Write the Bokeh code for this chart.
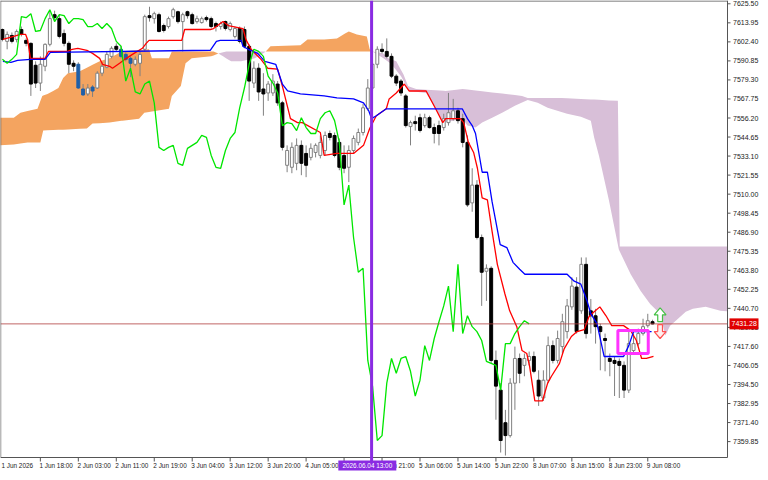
import numpy as np
from bokeh.plotting import figure
from bokeh.models import ColumnDataSource, Range1d
from bokeh.core.properties import value
from bokeh.embed import file_html
from bokeh.resources import INLINE

# ---------------- data (H1 candles) ----------------
opens = [7609.9, 7602.7, 7606.3, 7603.9, 7609.9, 7603.3, 7601.5, 7588.2, 7577.4, 7587.6,
         7600.9, 7618.9, 7616.5, 7607.5, 7601.5, 7589.4, 7588.8, 7573.8, 7570.8, 7575.0,
         7574.4, 7583.4, 7587.0, 7593.6, 7599.7, 7597.9, 7594.8, 7592.4, 7588.8, 7589.4,
         7597.9, 7618.3, 7616.5, 7618.9, 7612.3, 7611.7, 7617.7, 7620.7, 7614.7, 7620.7,
         7618.9, 7614.7, 7614.1, 7617.1, 7616.5, 7613.5, 7611.7, 7614.7, 7609.9, 7605.7,
         7610.5, 7609.9, 7599.7, 7577.4, 7586.4, 7573.8, 7571.4, 7571.4, 7576.8, 7565.4,
         7527.5, 7526.3, 7528.7, 7539.6, 7534.7, 7532.3, 7535.3, 7533.5, 7536.5, 7546.8,
         7545.6, 7541.4, 7533.5, 7526.3, 7536.5, 7541.4, 7547.4, 7561.8, 7574.4, 7588.8,
         7597.9, 7596.6, 7593.6, 7581.6, 7578.6, 7569.6, 7551.0, 7554.0, 7556.4, 7551.6,
         7556.4, 7550.4, 7551.6, 7550.4, 7553.4, 7555.8, 7560.6, 7555.8, 7541.4, 7504.7,
         7515.5, 7483.7, 7463.2, 7465.0, 7409.1, 7391.1, 7371.3, 7363.5, 7395.3, 7410.3,
         7406.1, 7409.1, 7411.5, 7397.1, 7386.3, 7397.1, 7418.1, 7409.1, 7417.5, 7426.6,
         7441.6, 7453.6, 7439.2, 7467.4, 7439.2, 7436.2, 7429.6, 7422.4, 7410.3, 7409.1,
         7408.5, 7406.1, 7391.1, 7415.1, 7419.3, 7425.4, 7430.2, 7432.6]
highs = [7610.5, 7608.7, 7608.1, 7609.9, 7611.7, 7604.5, 7602.1, 7590.6, 7593.6, 7601.5,
         7620.7, 7621.3, 7618.9, 7609.9, 7602.7, 7591.2, 7590.0, 7576.8, 7576.8, 7576.2,
         7584.6, 7590.0, 7596.6, 7599.7, 7601.5, 7599.7, 7596.0, 7593.6, 7593.6, 7596.6,
         7618.9, 7623.7, 7620.7, 7620.1, 7613.5, 7617.7, 7623.1, 7621.3, 7620.1, 7621.3,
         7620.1, 7618.3, 7617.7, 7618.3, 7617.7, 7614.7, 7614.7, 7615.3, 7614.7, 7611.7,
         7611.7, 7611.7, 7600.9, 7590.6, 7589.4, 7583.4, 7578.6, 7582.8, 7578.6, 7566.6,
         7539.6, 7541.4, 7543.8, 7542.6, 7539.6, 7540.8, 7540.8, 7545.6, 7548.0, 7548.6,
         7547.4, 7543.8, 7539.6, 7539.6, 7545.6, 7549.8, 7564.8, 7579.8, 7590.0, 7599.7,
         7601.5, 7604.5, 7595.4, 7582.8, 7579.8, 7570.8, 7554.6, 7557.6, 7558.8, 7558.8,
         7557.6, 7552.8, 7554.6, 7558.8, 7571.4, 7567.8, 7562.4, 7558.8, 7545.6, 7525.7,
         7518.5, 7485.5, 7467.4, 7466.2, 7415.1, 7395.3, 7379.1, 7398.3, 7417.5, 7413.3,
         7413.3, 7414.5, 7414.5, 7403.1, 7403.1, 7423.6, 7421.2, 7427.2, 7437.4, 7446.4,
         7459.6, 7459.6, 7471.6, 7471.6, 7446.4, 7440.4, 7431.4, 7425.4, 7413.3, 7411.5,
         7410.3, 7408.5, 7427.2, 7425.4, 7428.4, 7434.4, 7437.4, 7433.8]
lows = [7602.7, 7597.9, 7601.5, 7602.1, 7605.7, 7599.7, 7569.6, 7574.4, 7572.6, 7584.6,
        7599.7, 7614.7, 7604.5, 7599.7, 7583.4, 7584.6, 7573.8, 7569.6, 7569.6, 7569.0,
        7573.8, 7581.6, 7586.4, 7592.4, 7596.6, 7592.4, 7590.6, 7581.0, 7587.6, 7581.6,
        7596.6, 7614.7, 7613.5, 7608.1, 7608.1, 7610.5, 7616.5, 7613.5, 7596.6, 7616.5,
        7612.9, 7613.5, 7613.5, 7614.7, 7610.5, 7608.7, 7609.9, 7609.3, 7608.7, 7604.5,
        7601.5, 7598.5, 7566.6, 7574.4, 7566.6, 7557.6, 7566.6, 7569.6, 7563.6, 7536.5,
        7523.3, 7522.7, 7524.5, 7521.5, 7520.3, 7530.5, 7532.3, 7531.7, 7533.5, 7542.6,
        7532.3, 7524.5, 7522.7, 7517.3, 7534.7, 7539.6, 7545.6, 7560.6, 7572.6, 7586.4,
        7595.4, 7592.4, 7580.4, 7575.6, 7569.6, 7550.4, 7539.6, 7548.6, 7547.4, 7550.4,
        7549.8, 7540.8, 7539.6, 7548.6, 7551.6, 7554.6, 7552.8, 7538.4, 7502.3, 7499.3,
        7482.5, 7442.2, 7445.2, 7407.3, 7373.1, 7353.2, 7351.4, 7362.3, 7379.1, 7395.3,
        7399.5, 7406.1, 7401.3, 7381.5, 7384.5, 7395.3, 7407.3, 7407.3, 7413.3, 7422.4,
        7439.8, 7425.4, 7437.4, 7422.4, 7425.4, 7419.3, 7403.1, 7402.5, 7399.5, 7387.5,
        7386.3, 7386.3, 7389.3, 7413.3, 7418.1, 7424.2, 7429.0, 7431.0]
closes = [7603.9, 7606.9, 7602.7, 7608.7, 7606.9, 7601.5, 7576.8, 7577.4, 7588.8, 7600.9,
          7616.5, 7617.1, 7605.7, 7601.5, 7588.8, 7587.6, 7574.4, 7570.2, 7574.4, 7572.6,
          7583.4, 7587.6, 7594.8, 7598.5, 7597.9, 7593.6, 7591.8, 7589.4, 7591.8, 7594.8,
          7617.7, 7617.1, 7619.5, 7608.7, 7609.3, 7616.5, 7621.9, 7614.7, 7618.9, 7618.3,
          7613.5, 7616.5, 7616.5, 7615.9, 7611.7, 7611.7, 7613.5, 7610.5, 7613.5, 7610.5,
          7602.7, 7599.7, 7578.6, 7586.4, 7572.0, 7570.8, 7576.8, 7578.6, 7565.4, 7538.4,
          7536.5, 7538.4, 7539.6, 7528.7, 7527.5, 7537.8, 7539.6, 7541.4, 7545.6, 7544.4,
          7533.5, 7526.3, 7525.7, 7536.5, 7543.8, 7547.4, 7562.4, 7574.4, 7588.8, 7597.9,
          7596.6, 7593.6, 7581.6, 7577.4, 7571.4, 7551.6, 7553.4, 7552.8, 7548.6, 7556.4,
          7550.4, 7546.8, 7546.8, 7555.8, 7559.4, 7560.6, 7554.6, 7541.4, 7503.5, 7515.5,
          7483.7, 7462.6, 7465.0, 7409.1, 7393.5, 7360.5, 7363.5, 7395.3, 7410.3, 7401.3,
          7410.3, 7411.5, 7402.5, 7387.5, 7397.1, 7418.1, 7409.1, 7422.4, 7432.6, 7442.2,
          7454.2, 7426.6, 7467.4, 7425.4, 7436.2, 7429.6, 7426.6, 7421.2, 7408.5, 7407.3,
          7406.1, 7391.1, 7419.3, 7419.3, 7425.4, 7429.6, 7433.2, 7431.28]

# Tenkan-sen (red), Kijun-sen (blue): vertices (bar index, price)
tenkan_bar = [0.1, 2.4, 3.8, 4.9, 5.3, 5.9, 9.0, 9.7, 13.8, 14.7, 15.9, 17.8, 19.0, 20.5, 21.1,
              22.6, 23.2, 24.7, 26.1, 27.4, 29.5, 30.3, 30.9, 37.8, 38.4, 43.8, 44.5, 46.5, 47.6,
              50.7, 51.3, 52.4, 54.5, 55.9, 58.0, 59.0, 60.7, 62.2, 63.2, 67.0, 67.8, 70.5, 74.0,
              76.1, 77.4, 78.8, 80.9, 81.5, 83.0, 84.7, 85.7, 89.3, 91.3, 92.8, 93.4, 96.5, 97.2,
              98.2, 99.3, 100.1, 101.1, 102.2, 103.2, 104.3, 105.9, 106.9, 108.4, 109.5, 110.5,
              111.1, 112.2, 113.8, 114.9, 115.7, 117.4, 118.4, 119.9, 121.1, 122.6, 123.6, 124.7,
              125.9, 127.2, 128.4, 130.9, 132.4, 133.6, 134.7, 135.7, 137.2]
tenkan = [7603.9, 7605.7, 7606.9, 7606.9, 7603.9, 7592.4, 7592.4, 7596.6, 7596.6, 7597.9,
          7598.5, 7597.3, 7595.4, 7592.4, 7588.8, 7587.6, 7586.4, 7589.4, 7592.4, 7594.8,
          7598.5, 7601.5, 7603.3, 7603.3, 7609.9, 7609.9, 7610.5, 7614.7, 7612.3, 7610.5,
          7603.9, 7597.9, 7591.8, 7586.4, 7585.8, 7575.6, 7555.8, 7553.4, 7553.4, 7547.4,
          7533.5, 7534.7, 7534.7, 7539.6, 7549.8, 7557.6, 7561.8, 7567.8, 7571.4, 7576.8,
          7572.6, 7572.6, 7561.8, 7553.4, 7555.8, 7555.8, 7553.4, 7541.4, 7535.3, 7525.7,
          7507.7, 7506.5, 7487.3, 7467.4, 7449.4, 7439.2, 7429.6, 7415.1, 7413.3, 7405.5,
          7384.5, 7384.5, 7395.3, 7399.5, 7407.3, 7416.3, 7423.6, 7426.6, 7427.8, 7435.6,
          7438.6, 7441.6, 7436.2, 7430.2, 7430.2, 7427.2, 7421.2, 7410.3, 7410.3, 7411.5]
kijun_bar = [0.1, 1.8, 3.2, 5.9, 9.0, 10.1, 43.8, 45.1, 45.9, 50.3, 50.7, 51.8, 53.8, 55.3, 57.6,
             59.0, 60.1, 62.8, 67.8, 70.5, 74.0, 76.1, 77.2, 77.8, 78.8, 80.9, 96.9, 98.0, 99.0,
             99.7, 101.1, 102.2, 103.2, 104.9, 106.3, 107.6, 109.0, 110.1, 119.0, 120.5, 121.9,
             123.2, 124.0, 125.3, 126.8, 130.9, 132.0, 133.0, 136.8]
kijun = [7590.6, 7590.0, 7591.2, 7591.8, 7591.8, 7596.0, 7597.3, 7602.7, 7603.3, 7603.3,
         7599.7, 7597.9, 7595.4, 7590.6, 7588.8, 7576.8, 7572.6, 7570.8, 7569.6, 7568.4,
         7567.8, 7565.4, 7560.6, 7555.8, 7557.6, 7561.8, 7561.8, 7555.8, 7551.6, 7546.8,
         7523.3, 7523.3, 7505.3, 7479.4, 7477.6, 7468.6, 7464.4, 7461.4, 7461.4, 7457.2,
         7455.4, 7445.2, 7437.4, 7431.4, 7411.5, 7411.5, 7418.1, 7426.6, 7426.6]

# Senkou span A / B (cloud edges)
span_a_bar = [-1, 2.4, 3.8, 7.4, 8.4, 9.5, 10.7, 11.8, 12.8, 13.8, 16.3, 18.4, 20.5, 22.6, 24.0,
              25.1, 30.9, 31.5, 35.1, 35.7, 44.5, 45.5, 46.5, 48.2, 50.3, 53.2, 54.9, 55.5, 56.5,
              62.8, 64.3, 67.8, 70.5, 72.2, 73.0, 74.7, 76.8, 77.4, 78.0, 80.3, 82.0, 84.0, 85.7,
              89.3, 91.3, 93.0, 97.0, 98.0, 99.7, 101.1, 103.2, 105.3, 108.0, 110.7, 112.8, 114.9,
              119.0, 121.9, 124.0, 124.7, 125.7, 127.8, 129.9, 132.4, 134.5, 136.5, 138.6, 139.7,
              140.7, 141.9, 144.0, 145.5, 148.2, 151.3, 154.0]
span_a = [7556.4, 7556.4, 7559.4, 7561.8, 7569.6, 7570.8, 7572.6, 7574.4, 7580.4, 7583.4,
          7584.6, 7587.6, 7590.6, 7592.4, 7594.8, 7596.6, 7597.9, 7592.4, 7592.4, 7596.6,
          7596.6, 7595.4, 7593.6, 7590.6, 7590.6, 7592.4, 7595.4, 7596.6, 7599.7, 7600.3,
          7603.9, 7603.9, 7604.5, 7607.5, 7608.7, 7606.9, 7605.7, 7597.9, 7596.6, 7592.4,
          7588.8, 7581.6, 7572.6, 7571.4, 7561.8, 7553.4, 7555.8, 7551.6, 7550.4, 7553.4,
          7556.4, 7559.4, 7563.6, 7567.2, 7565.4, 7562.4, 7558.8, 7557.0, 7554.6, 7544.4,
          7533.5, 7506.5, 7476.4, 7461.4, 7451.2, 7443.4, 7437.4, 7424.2, 7430.2, 7433.2,
          7438.6, 7440.4, 7441.6, 7439.2, 7438.6]
span_b_bar = [-1, 2.4, 5.3, 8.0, 8.6, 17.8, 19.0, 22.6, 25.3, 28.8, 29.9, 35.1, 35.7, 37.6, 38.6,
              39.9, 44.0, 45.5, 47.2, 55.5, 78.0, 80.3, 81.3, 83.0, 84.5, 85.5, 87.2, 93.4, 97.0,
              109.5, 110.7, 117.8, 121.9, 129.7, 130.1, 154.0]
span_b = [7539.6, 7540.1, 7541.4, 7541.4, 7548.6, 7549.8, 7552.8, 7553.4, 7554.6, 7555.8,
          7559.4, 7561.8, 7569.6, 7575.6, 7589.4, 7592.4, 7593.6, 7595.4, 7596.6, 7596.6,
          7596.6, 7595.4, 7592.4, 7590.6, 7582.8, 7575.6, 7573.8, 7572.6, 7573.8, 7569.6,
          7568.4, 7568.4, 7567.8, 7566.6, 7478.2, 7478.2]
chikou_shift = 26

time_tick_bars = [0, 8, 16, 24, 32, 40, 48, 56, 64, 72, 80, 88, 96, 104, 112, 120, 128, 136]
time_tick_labels = ["1 Jun 2026", "1 Jun 18:00", "2 Jun 03:00", "2 Jun 11:00", "2 Jun 19:00",
                    "3 Jun 04:00", "3 Jun 12:00", "3 Jun 20:00", "4 Jun 05:00", "4 Jun 13:00",
                    "4 Jun 21:00", "5 Jun 06:00", "5 Jun 14:00", "5 Jun 22:00", "8 Jun 07:00",
                    "8 Jun 15:00", "8 Jun 23:00", "9 Jun 08:00"]
price_ticks = [7625.50, 7613.95, 7602.40, 7590.85, 7579.30, 7567.75, 7556.20, 7544.65, 7533.10,
               7521.55, 7510.00, 7498.45, 7486.90, 7475.35, 7463.80, 7452.25, 7440.70, 7429.15,
               7417.60, 7406.05, 7394.50, 7382.95, 7371.40, 7359.85]
last_price = 7431.28
marker_bar = 77.8
marker_text = "2026.06.04 13:00"
box_left_bar, box_right_bar, box_top, box_bottom = 129.7, 136.1, 7427.2, 7413.3
arrow_bar = 138.6
up_arrow_tip = 7441.0
down_arrow_tip = 7422.4

# ---------------- geometry of the chart window ----------------
X0, X1 = -0.4, 152.8          # bar range of the price panel
Y0, Y1 = 7350.2, 7627.5       # price range of the price panel
W, H = 760, 472
FRAME_W, FRAME_H = 727, 457   # price panel in pixels; the rest is the axis strips
px_x = (X1 - X0) / FRAME_W    # bars per pixel
px_y = (Y1 - Y0) / FRAME_H    # price per pixel
XR = (X0, X0 + W * px_x)
YR = (Y1 - H * px_y, Y1)

FONT = "Liberation Sans"
FS = value("7px")
FS_T = value("6.4px")

p = figure(width=W, height=H, x_range=Range1d(*XR), y_range=Range1d(*YR),
           output_backend="svg", toolbar_location=None,
           x_axis_location=None, y_axis_location=None, min_border=0)
p.grid.visible = False
p.outline_line_color = None
p.background_fill_color = "white"
p.border_fill_color = "white"

# cloud
grid = np.unique(np.concatenate([span_a_bar, span_b_bar]))
ag = np.interp(grid, span_a_bar, span_a)
bg = np.interp(grid, span_b_bar, span_b)
top = np.maximum(ag, bg)
p.varea(x=grid, y1=bg, y2=top, fill_color="#f4a460")
p.varea(x=grid, y1=ag, y2=top, fill_color="#d8bfd8")

# candles
o = np.array(opens); h = np.array(highs); l = np.array(lows); c = np.array(closes)
bars = np.arange(len(c))
bull = c >= o
a_at = np.interp(bars, span_a_bar, span_a)
b_at = np.interp(bars, span_b_bar, span_b)
mid = (o + c) / 2
in_orange = (a_at > b_at) & (mid < a_at) & (mid > b_at)
fill = np.where(bull, "white", np.where(in_orange, "#1f5fa8", "black"))
edge = np.where(bull, "#808080", np.where(in_orange, "#1f5fa8", "black"))
src = ColumnDataSource(dict(x=bars, h=h, l=l, top=np.maximum(o, c), bottom=np.minimum(o, c),
                            fill=fill, edge=edge))
p.segment(x0="x", y0="l", x1="x", y1="h", source=src, line_color="#808080", line_width=1)
p.vbar(x="x", width=0.62, top="top", bottom="bottom", fill_color="fill", line_color="edge",
       line_width=1, source=src)

# ichimoku lines
p.line(tenkan_bar, tenkan, line_color="#ff0000", line_width=1.3)
p.line(kijun_bar, kijun, line_color="#0000ff", line_width=1.3)
p.line(bars[:-chikou_shift], c[chikou_shift:], line_color="#00e600", line_width=1.3)

# last price line
p.segment(x0=[X0], y0=[last_price], x1=[X1], y1=[last_price], line_color="#b04040",
          line_alpha=0.8, line_width=1)

# highlight box
p.quad(left=[box_left_bar], right=[box_right_bar], top=[box_top], bottom=[box_bottom],
       fill_alpha=0, line_color="#ff33ff", line_width=3)

# signal arrows
hw, sw, hl, sl = 1.25, 0.5, 4.2, 4.2
ux = [arrow_bar, arrow_bar + hw, arrow_bar + sw, arrow_bar + sw, arrow_bar - sw, arrow_bar - sw, arrow_bar - hw]
uy = [up_arrow_tip, up_arrow_tip - hl, up_arrow_tip - hl, up_arrow_tip - hl - sl,
      up_arrow_tip - hl - sl, up_arrow_tip - hl, up_arrow_tip - hl]
dy = [down_arrow_tip, down_arrow_tip + hl, down_arrow_tip + hl, down_arrow_tip + hl + sl,
      down_arrow_tip + hl + sl, down_arrow_tip + hl, down_arrow_tip + hl]
p.patch(ux, uy, fill_color="white", line_color="#44c044", line_width=1.2)
p.patch(ux, dy, fill_color="#fff0f0", line_color="#ff5050", line_width=1.2)

# axis strips (mask everything outside the price panel)
p.quad(left=[X1], right=[XR[1] + 1], bottom=[YR[0] - 1], top=[YR[1] + 1],
       fill_color="white", line_color=None)
p.quad(left=[XR[0] - 1], right=[XR[1] + 1], bottom=[YR[0] - 1], top=[Y0],
       fill_color="white", line_color=None)

# panel border and axis lines
p.segment(x0=[X0, X0 + 0.2 * px_x, X1, X0], y0=[Y1 - 0.5 * px_y, Y0, Y0, Y0],
          x1=[X1, X0 + 0.2 * px_x, X1, X1], y1=[Y1 - 0.5 * px_y, Y1, Y1, Y0],
          line_color="#555555", line_width=1)

# price axis ticks + labels
p.segment(x0=[X1] * len(price_ticks), y0=price_ticks,
          x1=[X1 + 3 * px_x] * len(price_ticks), y1=price_ticks, line_color="#555555")
p.text(x=[X1 + 5.5 * px_x] * len(price_ticks), y=price_ticks,
       text=["%.2f" % t for t in price_ticks], text_font=value(FONT), text_font_size=FS,
       text_color="#222222", text_align="left", text_baseline="middle")

# time axis ticks + labels
p.segment(x0=time_tick_bars[1:], y0=[Y0] * (len(time_tick_bars) - 1),
          x1=time_tick_bars[1:], y1=[Y0 - 4 * px_y] * (len(time_tick_bars) - 1),
          line_color="#555555")
p.text(x=[b - 0.2 for b in time_tick_bars], y=[Y0 - 4.5 * px_y] * len(time_tick_bars),
       text=time_tick_labels, text_font=value(FONT), text_font_size=FS_T,
       text_color="#222222", text_align="left", text_baseline="top")

# vertical marker line + date box
p.segment(x0=[marker_bar], y0=[Y1], x1=[marker_bar], y1=[Y0 - 8 * px_y],
          line_color="#8a2be2", line_width=3)
date_cx = marker_bar - 0.9
p.quad(left=[date_cx - 29 * px_x], right=[date_cx + 29 * px_x],
       top=[Y0 - 3 * px_y], bottom=[Y0 - 13 * px_y], fill_color="#8a2be2", line_color=None)
p.text(x=[date_cx], y=[Y0 - 8 * px_y], text=[marker_text], text_font=value(FONT),
       text_font_size=FS_T, text_color="white", text_align="center", text_baseline="middle")

# last price box
p.quad(left=[X1 + 2 * px_x], right=[X1 + 31 * px_x], top=[last_price + 5.5 * px_y],
       bottom=[last_price - 5.5 * px_y], fill_color="#e00000", line_color=None)
p.text(x=[X1 + 4 * px_x], y=[last_price], text=["%.2f" % last_price], text_font=value(FONT),
       text_font_size=FS, text_color="white", text_align="left", text_baseline="middle")

open("out.html", "w").write(file_html(p, INLINE))
